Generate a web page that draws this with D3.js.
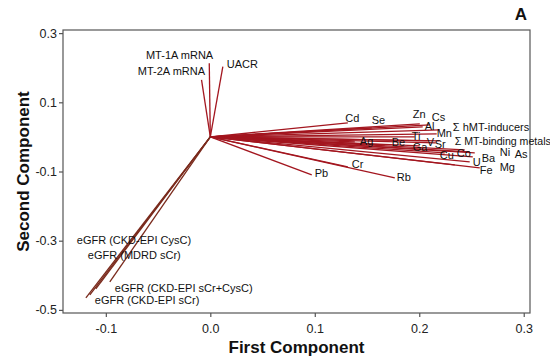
<!DOCTYPE html>
<html>
<head>
<meta charset="utf-8">
<script src="https://cdn.jsdelivr.net/npm/d3@7"></script>
<style>
  body { margin: 0; background: #fff; }
  svg { display: block; }
  text { font-family: Arial, "Liberation Sans", sans-serif; }
</style>
</head>
<body>
<svg id="chart" width="550" height="362"></svg>
<script>
// ---- data ----
const variables = ["MT-1A mRNA","MT-2A mRNA","UACR",
  "Cd","Se","Zn","Cs","Al","\u03A3 hMT-inducers","Mn","Ti","V","Sr","Ga","\u03A3 MT-binding metals",
  "Ag","Be","Cu","Co","Ni","As","Ba","U","Mg","Fe","Cr","Pb","Rb",
  "eGFR (CKD-EPI sCr)","eGFR (CKD-EPI CysC)","eGFR (MDRD sCr)","eGFR (CKD-EPI sCr+CysC)"];
const pc1 = [-0.001,-0.0084,0.012,
  0.1316,0.1545,0.2005,0.2100,0.2033,0.2196,0.2167,0.1957,0.2081,0.2158,0.2005,0.2196,
  0.1383,0.1670,0.2244,0.2531,0.2435,0.2483,0.2512,0.2483,0.2340,0.2579,0.1316,0.0971,0.1766,
  -0.1191,-0.1153,-0.1096,-0.0962];
const pc2 = [0.213,0.165,0.203,
  0.0405,0.026,0.0376,0.0347,0.0289,0.0202,0.0087,0.0,-0.0116,-0.0173,-0.026,-0.0116,
  -0.0145,-0.0231,-0.0462,-0.0462,-0.0376,-0.0434,-0.0578,-0.0723,-0.0809,-0.0896,-0.0867,-0.1098,-0.1185,
  -0.4653,-0.4566,-0.4393,-0.4191];
const group = ["m","m","m",
  "m","m","m","m","m","m","m","m","m","m","m","m",
  "m","m","m","m","m","m","m","m","m","m","m","m","m",
  "e","e","e","e"];
// label anchors (text start, baseline), in axis units
const labelX = [-0.0616,-0.0694,0.0158,
  0.1292,0.1545,0.1938,0.2120,0.2053,0.2321,0.2167,0.1928,0.2072,0.2148,0.1938,0.2340,
  0.1431,0.1737,0.2196,0.2359,0.2770,0.2914,0.2598,0.2512,0.2770,0.2579,0.1354,0.1000,0.1785,
  -0.1105,-0.1278,-0.1172,-0.0914];
const labelY = [0.2254,0.1792,0.1994,
  0.0434,0.0376,0.0549,0.0462,0.0202,0.0173,0.0,-0.0087,-0.026,-0.0318,-0.0405,-0.0231,
  -0.0231,-0.026,-0.0636,-0.0578,-0.0549,-0.0607,-0.0723,-0.0838,-0.0983,-0.1069,-0.0896,-0.1156,-0.1272,
  -0.4827,-0.3092,-0.3526,-0.448];
const xTicks = [-0.1, 0.0, 0.1, 0.2, 0.3];
const yTicks = [0.3, 0.1, -0.1, -0.3, -0.5];

// ---- chart ----
const svg = d3.select("#chart");
const L = 63, R = 530, T = 30, B = 313;
const x = d3.scaleLinear().domain([-0.141, 0.306]).range([L, R]);
const y = d3.scaleLinear().domain([-0.509, 0.309]).range([B, T]);

const rows = variables.map((v, i) => ({name: v, x: pc1[i], y: pc2[i], g: group[i], lx: labelX[i], ly: labelY[i]}));

const color = {m: "#a3161f", e: "#7a2a1c"};

// vectors
svg.append("g").selectAll("line").data(rows).join("line")
  .attr("x1", x(0)).attr("y1", y(0))
  .attr("x2", d => x(d.x)).attr("y2", d => y(d.y))
  .attr("stroke", d => color[d.g])
  .attr("stroke-width", 1.3);

// frame
svg.append("rect").attr("x", L).attr("y", T).attr("width", R - L).attr("height", B - T)
  .attr("fill", "none").attr("stroke", "#555").attr("stroke-width", 1.2);

// axes
const fmt = v => d3.format(".1f")(v).replace("\u2212", "-");
const xAxis = d3.axisBottom(x).tickValues(xTicks).tickFormat(fmt).tickSize(4).tickSizeOuter(0);
const yAxis = d3.axisLeft(y).tickValues(yTicks).tickFormat(fmt).tickSize(4).tickSizeOuter(0);
const gx = svg.append("g").attr("transform", `translate(0,${B})`).call(xAxis);
const gy = svg.append("g").attr("transform", `translate(${L},0)`).call(yAxis);
[gx, gy].forEach(g => {
  g.select(".domain").remove();
  g.selectAll(".tick line").attr("stroke", "#555").attr("stroke-width", 1.2);
  g.selectAll(".tick text").attr("fill", "#222").style("font-size", "12.5px")
    .style("font-family", "Arial, 'Liberation Sans', sans-serif");
});
gx.selectAll(".tick text").attr("dy", "1.05em");
gy.selectAll(".tick text").attr("x", -6);

// labels
svg.append("g").selectAll("text").data(rows).join("text")
  .attr("x", d => x(d.lx)).attr("y", d => y(d.ly))
  .attr("fill", "#111").style("font-size", d => d.name.length > 15 && d.g === "m" ? "10.6px" : "11px")
  .text(d => d.name);

// titles
svg.append("text").attr("x", (L + R) / 2).attr("y", 353).attr("text-anchor", "middle")
  .style("font-size", "17px").style("font-weight", "bold").attr("fill", "#111")
  .text("First Component");
svg.append("text").attr("transform", `translate(29,${(T + B) / 2}) rotate(-90)`).attr("text-anchor", "middle")
  .style("font-size", "17px").style("font-weight", "bold").attr("fill", "#111")
  .text("Second Component");
svg.append("text").attr("x", 521).attr("y", 20).attr("text-anchor", "middle")
  .style("font-size", "17px").style("font-weight", "bold").attr("fill", "#111")
  .text("A");
</script>
</body>
</html>
